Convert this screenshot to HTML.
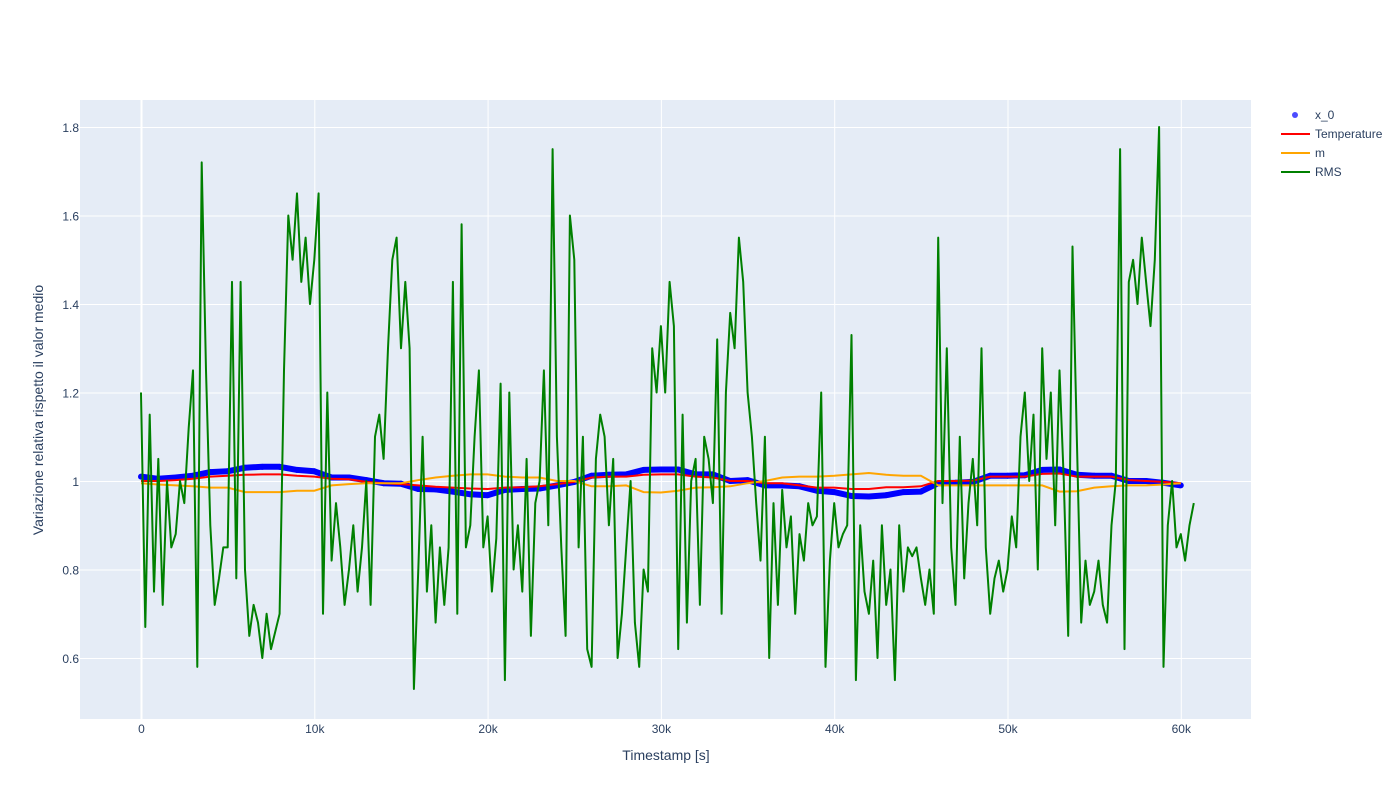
<!DOCTYPE html>
<html><head><meta charset="utf-8"><style>
body{margin:0;background:#fff;font-family:"Liberation Sans",Arial,sans-serif}
svg text{font-family:"Liberation Sans",Arial,sans-serif;fill:#2a3f5f}
</style></head><body>
<svg id="chart" width="1400" height="800" xmlns="http://www.w3.org/2000/svg">
<rect x="80" y="100" width="1171" height="619" fill="#e5ecf6"/>
<g id="grid"></g>
<defs><clipPath id="clip"><rect x="80" y="100" width="1171" height="619"/></clipPath></defs>
<g id="series" clip-path="url(#clip)"></g>
<g id="ticks"></g>
<text x="666" y="760" font-size="14" text-anchor="middle">Timestamp [s]</text>
<text transform="translate(43,410) rotate(-90)" font-size="14" text-anchor="middle">Variazione relativa rispetto il valor medio</text>
<g font-size="12">
<g><circle cx="1295" cy="115" r="3" fill="#0000ff" opacity="0.7"/><text x="1315" y="119" font-size="12">x_0</text></g>
<g><line x1="1281" x2="1310" y1="134" y2="134" stroke="red" stroke-width="2"/><text x="1315" y="138" font-size="12">Temperature</text></g>
<g><line x1="1281" x2="1310" y1="153" y2="153" stroke="orange" stroke-width="2"/><text x="1315" y="157" font-size="12">m</text></g>
<g><line x1="1281" x2="1310" y1="172" y2="172" stroke="green" stroke-width="2"/><text x="1315" y="176" font-size="12">RMS</text></g>
</g>
</svg>
<script>
const xTicks=[0,10000,20000,30000,40000,50000,60000];
const xTickLabels=["0","10k","20k","30k","40k","50k","60k"];
const yTicks=[0.6,0.8,1,1.2,1.4,1.6,1.8];
const yTickLabels=["0.6","0.8","1","1.2","1.4","1.6","1.8"];
const slowStep=1000;
const rmsStep=250;
const x0Values=[1.010,1.005,1.008,1.012,1.02,1.022,1.03,1.032,1.032,1.025,1.022,1.008,1.008,1.002,0.995,0.994,0.982,0.981,0.976,0.97,0.968,0.98,0.982,0.983,0.99,0.998,1.012,1.014,1.015,1.025,1.026,1.026,1.015,1.015,1.0,1.002,0.99,0.99,0.988,0.978,0.975,0.966,0.965,0.968,0.975,0.976,0.995,0.996,0.998,1.012,1.012,1.013,1.025,1.026,1.014,1.012,1.012,1.0,1.0,0.996,0.99];
const tempValues=[1.0,1.0,1.002,1.005,1.01,1.012,1.014,1.015,1.015,1.012,1.01,1.005,1.004,0.998,0.995,0.993,0.99,0.987,0.985,0.983,0.982,0.985,0.986,0.988,0.993,0.998,1.008,1.01,1.01,1.014,1.015,1.015,1.01,1.008,1.0,1.0,0.995,0.995,0.99,0.985,0.985,0.982,0.982,0.986,0.986,0.988,1.0,1.0,1.001,1.01,1.01,1.01,1.016,1.017,1.01,1.01,1.01,1.002,1.0,0.998,0.995];
const mValues=[0.995,0.992,0.99,0.988,0.985,0.985,0.975,0.975,0.975,0.978,0.978,0.99,0.993,0.995,0.995,0.995,1.002,1.008,1.012,1.015,1.015,1.01,1.008,1.008,1.0,1.0,0.988,0.988,0.99,0.975,0.974,0.978,0.985,0.986,0.988,0.995,1.0,1.008,1.01,1.01,1.012,1.015,1.018,1.014,1.012,1.012,0.99,0.99,0.99,0.99,0.99,0.99,0.99,0.976,0.977,0.985,0.988,0.99,0.99,0.992,0.995];
const rmsValues=[1.2,0.67,1.15,0.75, 1.05,0.72,1.0,0.85, 0.88,1.0,0.95,1.12, 1.25,0.58,1.72,1.25, 0.9,0.72,0.78,0.85, 0.85,1.45,0.78,1.45, 0.8,0.65,0.72,0.68, 0.6,0.7,0.62,0.66, 0.7,1.25,1.6,1.5, 1.65,1.45,1.55,1.4, 1.5,1.65,0.7,1.2, 0.82,0.95,0.85,0.72, 0.8,0.9,0.75,0.85, 1.0,0.72,1.1,1.15, 1.05,1.3,1.5,1.55, 1.3,1.45,1.3,0.53, 0.8,1.1,0.75,0.9, 0.68,0.85,0.72,0.85, 1.45,0.7,1.58,0.85, 0.9,1.1,1.25,0.85, 0.92,0.75,0.87,1.22, 0.55,1.2,0.8,0.9, 0.75,1.05,0.65,0.95, 1.0,1.25,0.9,1.75, 1.1,0.85,0.65,1.6, 1.5,0.85,1.1,0.62, 0.58,1.05,1.15,1.1, 0.9,1.05,0.6,0.7, 0.85,1.0,0.68,0.58, 0.8,0.75,1.3,1.2, 1.35,1.2,1.45,1.35, 0.62,1.15,0.68,1.0, 1.05,0.72,1.1,1.05, 0.95,1.32,0.7,1.2, 1.38,1.3,1.55,1.45, 1.2,1.1,0.95,0.82, 1.1,0.6,0.95,0.72, 0.98,0.85,0.92,0.7, 0.88,0.82,0.95,0.9, 0.92,1.2,0.58,0.82, 0.95,0.85,0.88,0.9, 1.33,0.55,0.9,0.75, 0.7,0.82,0.6,0.9, 0.72,0.8,0.55,0.9, 0.75,0.85,0.83,0.85, 0.78,0.72,0.8,0.7, 1.55,0.95,1.3,0.85, 0.72,1.1,0.78,0.95, 1.05,0.9,1.3,0.85, 0.7,0.78,0.82,0.75, 0.8,0.92,0.85,1.1, 1.2,1.0,1.15,0.8, 1.3,1.05,1.2,0.9, 1.25,1.0,0.65,1.53, 1.1,0.68,0.82,0.72, 0.75,0.82,0.72,0.68, 0.9,1.0,1.75,0.62, 1.45,1.5,1.4,1.55, 1.45,1.35,1.5,1.8, 0.58,0.9,1.0,0.85, 0.88,0.82,0.9, 0.95];

const X=v=>141+(v/10000)*173.3;
const Y=v=>481-(v-1)*442.5;
const NS="http://www.w3.org/2000/svg";
function mk(tag,parent){const e=document.createElementNS(NS,tag);document.getElementById(parent).appendChild(e);return e;}

xTicks.forEach((t,i)=>{
  const l=mk('line','grid');
  
  
  l.setAttribute('x1',X(t)+0.5);l.setAttribute('x2',X(t)+0.5);l.setAttribute('y1',100);l.setAttribute('y2',719);
  l.setAttribute('stroke','#fff');l.setAttribute('stroke-width',t===0?2:1);
  const tx=mk('text','ticks');
  
  
  tx.setAttribute('x',X(t)+0.5);tx.setAttribute('y',733);tx.setAttribute('font-size','12');tx.setAttribute('text-anchor','middle');
  tx.textContent=xTickLabels[i];
});
yTicks.forEach((t,i)=>{
  const l=mk('line','grid');
  
  
  l.setAttribute('x1',80);l.setAttribute('x2',1251);l.setAttribute('y1',Y(t)+0.5);l.setAttribute('y2',Y(t)+0.5);
  l.setAttribute('stroke','#fff');l.setAttribute('stroke-width',1);
  const tx=mk('text','ticks');
  
  
  tx.setAttribute('x',79);tx.setAttribute('y',Y(t)+5);tx.setAttribute('font-size','12');tx.setAttribute('text-anchor','end');
  tx.textContent=yTickLabels[i];
});
function pts(arr,step){return arr.map((v,i)=>X(i*step).toFixed(1)+','+Y(v).toFixed(1)).join(' ');}

const xb=mk('polyline','series');


xb.setAttribute('points',pts(x0Values,slowStep));xb.setAttribute('fill','none');xb.setAttribute('stroke','#0000ff');xb.setAttribute('stroke-width','6');xb.setAttribute('stroke-linejoin','round');
x0Values.forEach((v,i)=>{
  const c=mk('circle','series');
  
  
  c.setAttribute('cx',X(i*slowStep));c.setAttribute('cy',Y(v));c.setAttribute('r',3);c.setAttribute('fill','#0000ff');
});
const tl=mk('polyline','series');


tl.setAttribute('points',pts(tempValues,slowStep));tl.setAttribute('fill','none');tl.setAttribute('stroke','red');tl.setAttribute('stroke-width','2');
const ml=mk('polyline','series');


ml.setAttribute('points',pts(mValues,slowStep));ml.setAttribute('fill','none');ml.setAttribute('stroke','orange');ml.setAttribute('stroke-width','2');
const rl=mk('polyline','series');


rl.setAttribute('points',pts(rmsValues,rmsStep));rl.setAttribute('fill','none');rl.setAttribute('stroke','green');rl.setAttribute('stroke-width','2');rl.setAttribute('stroke-linejoin','round');
</script>
</body></html>
